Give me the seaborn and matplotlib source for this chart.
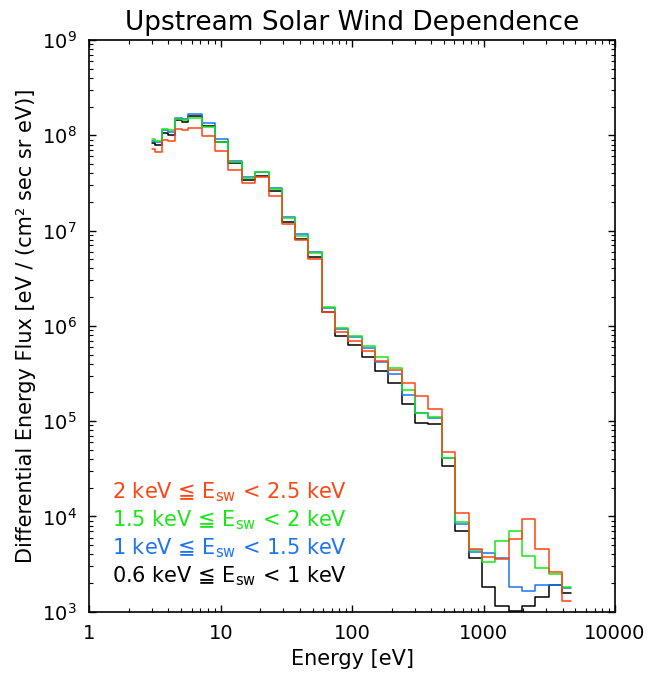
import matplotlib
matplotlib.use("Agg")
import matplotlib.pyplot as plt
from matplotlib.ticker import NullFormatter
import seaborn as sns
import pandas as pd
import numpy as np

# energy bin edges [eV] (step boundaries)
energy_edges = [2.99, 3.16, 3.56, 4.00, 4.49, 5.05, 5.68, 7.17, 9.06, 11.4,
                14.5, 18.3, 23.1, 29.1, 36.8, 46.5, 58.7, 74.2, 93.8, 118,
                150, 189, 239, 302, 381, 481, 608, 768, 970, 1226,
                1549, 1956, 2472, 3122, 3945, 4613]

# differential energy flux per bin, one list per solar wind energy range
flux_2_25 = [7.10e7, 6.68e7, 9.03e7, 8.71e7, 1.156e8, 1.128e8, 1.184e8, 9.83e7, 6.89e7, 4.32e7,
             3.13e7, 3.62e7, 2.31e7, 1.17e7, 7.96e6, 5.09e6, 1.39e6, 8.55e5, 6.98e5, 5.48e5,
             4.31e5, 3.44e5, 2.53e5, 1.82e5, 1.34e5, 4.78e4, 1.08e4, 4.52e3, 3.78e3, 3.57e3,
             5.83e3, 9.33e3, 4.55e3, 2.59e3, 1.30e3]
flux_15_2 = [9.14e7, 8.71e7, 1.156e8, 1.123e8, 1.482e8, 1.436e8, 1.519e8, 1.230e8, 8.60e7, 5.28e7,
             3.54e7, 4.15e7, 2.73e7, 1.345e7, 8.83e6, 5.77e6, 1.59e6, 9.56e5, 7.82e5, 6.14e5,
             4.75e5, 3.64e5, 2.11e5, 1.23e5, 1.10e5, 4.10e4, 8.80e3, 4.39e3, 3.35e3, 5.52e3,
             7.08e3, 3.86e3, 2.85e3, 2.49e3, 1.83e3]
flux_1_15 = [8.81e7, 8.60e7, 1.128e8, 1.082e8, 1.529e8, 1.500e8, 1.664e8, 1.336e8, 9.07e7, 5.41e7,
             3.68e7, 4.12e7, 2.78e7, 1.378e7, 9.13e6, 5.91e6, 1.54e6, 9.20e5, 7.58e5, 5.81e5,
             4.17e5, 3.10e5, 1.89e5, 1.22e5, 1.08e5, 4.13e4, 8.32e3, 4.26e3, 4.16e3, 3.69e3,
             1.83e3, 1.65e3, 1.92e3, 1.89e3, 1.77e3]
flux_06_1 = [8.36e7, 7.91e7, 1.057e8, 1.007e8, 1.447e8, 1.379e8, 1.582e8, 1.251e8, 8.50e7, 5.08e7,
             3.39e7, 3.74e7, 2.60e7, 1.24e7, 8.15e6, 5.32e6, 1.41e6, 7.82e5, 6.29e5, 4.75e5,
             3.38e5, 2.53e5, 1.50e5, 9.62e4, 9.33e4, 3.40e4, 7.03e3, 3.69e3, 1.83e3, 1.16e3,
             1.02e3, 1.16e3, 1.44e3, 1.91e3, 1.56e3]

series_names = ["0.6-1", "1-1.5", "1.5-2", "2-2.5"]
series_flux = [flux_06_1, flux_1_15, flux_15_2, flux_2_25]
series_colors = ["#000000", "#1C74F5", "#19E619", "#FF4513"]
labels = [r"2 keV ≦ E$_{\rm sw}$ < 2.5 keV",
          r"1.5 keV ≦ E$_{\rm sw}$ < 2 keV",
          r"1 keV ≦ E$_{\rm sw}$ < 1.5 keV",
          r"0.6 keV ≦ E$_{\rm sw}$ < 1 keV"]
label_colors = ["#FF4513", "#19E619", "#1C74F5", "#000000"]

# long table for seaborn, last value repeated so steps-post closes the final bin
rows = []
for name, flux in zip(series_names, series_flux):
    vals = list(flux) + [flux[-1]]
    for e, f in zip(energy_edges, vals):
        rows.append({"energy": e, "flux": f, "series": name})
df = pd.DataFrame(rows)

sns.set_theme(style="ticks")
plt.rcParams["font.family"] = ["DejaVu Sans"]
plt.rcParams["xtick.direction"] = "in"
plt.rcParams["ytick.direction"] = "in"
plt.rcParams["mathtext.default"] = "regular"
for key in ["text.color", "axes.labelcolor", "xtick.color", "ytick.color", "axes.edgecolor"]:
    plt.rcParams[key] = "black"

fig = plt.figure(figsize=(6.49, 6.78), dpi=100)
ax = fig.add_axes([0.1376, 0.0978, 0.8100, 0.8432])

sns.lineplot(data=df, x="energy", y="flux", hue="series", hue_order=series_names,
             palette=series_colors, drawstyle="steps-post", estimator=None,
             sort=False, legend=False, linewidth=1.1, ax=ax)

ax.set_xscale("log")
ax.set_yscale("log")
ax.set_xlim(1, 10000)
ax.set_ylim(1e3, 1e9)
ax.set_xticks([1, 10, 100, 1000, 10000])
ax.set_xticklabels(["1", "10", "100", "1000", "10000"])
ax.xaxis.set_minor_formatter(NullFormatter())
ax.yaxis.set_minor_formatter(NullFormatter())
ax.tick_params(which="major", length=5, width=1, top=True, right=True,
               labelsize=14, pad=9)
ax.tick_params(which="minor", length=3, width=0.8, top=True, right=True)
for s in ax.spines.values():
    s.set_linewidth(1.2)

ax.set_title("Upstream Solar Wind Dependence", fontsize=19, pad=7)
ax.set_xlabel("Energy [eV]", fontsize=15, labelpad=4)
ax.set_ylabel("Differential Energy Flux [eV / (cm² sec sr eV)]", fontsize=15, labelpad=4)

ys = [0.198, 0.150, 0.101, 0.052]
for lab, col, yy in zip(labels, label_colors, ys):
    ax.text(0.043, yy, lab, color=col, fontsize=15, transform=ax.transAxes,
            ha="left", va="baseline")

fig.savefig("out.png", dpi=100)
